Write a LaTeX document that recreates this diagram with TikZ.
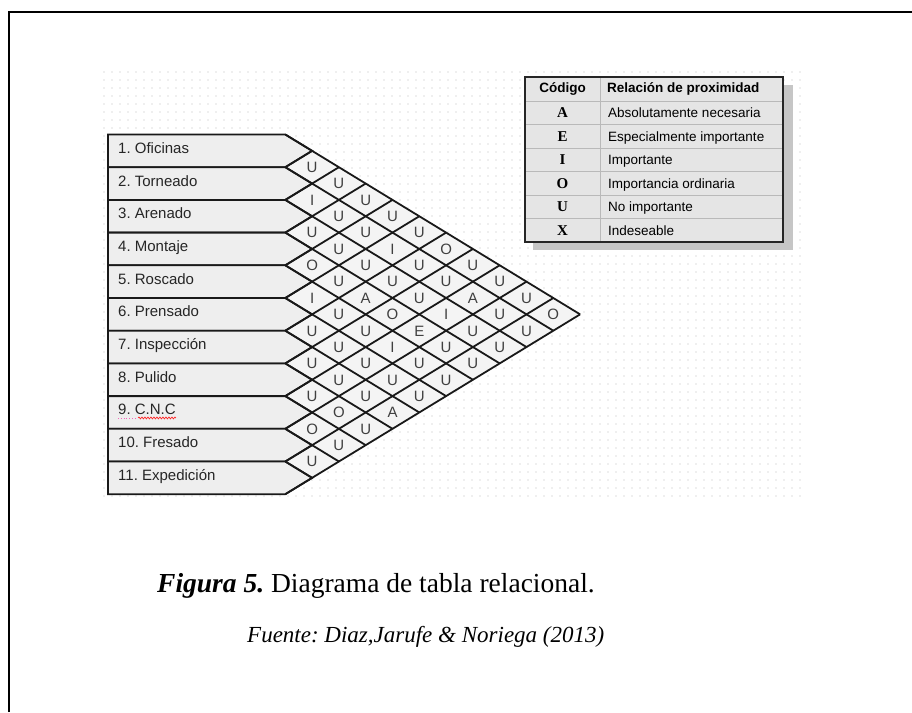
\documentclass[tikz,border=0pt]{standalone}
\usepackage{fontspec}
\setmainfont{Liberation Serif}
\newfontfamily\uisans{Liberation Sans}
\usetikzlibrary{patterns.meta,decorations.pathmorphing}
\frenchspacing

% faint screen grid behind the chart
\pgfdeclarepattern{
  name=griddots,
  type=uncolored,
  bottom left={\pgfpoint{-1pt}{-1pt}},
  top right={\pgfpoint{7pt}{7pt}},
  tile size={\pgfpoint{8pt}{8pt}},
  code={\pgfpathcircle{\pgfpointorigin}{0.55pt}\pgfusepath{fill}}
}

% chart geometry (1 unit = 1pt, y grows downwards)
\def\xL{108}      % left edge of the activity boxes
\def\xO{285.3}    % right edge of the box rectangles
\def\dx{26.8}     % half width of a diamond
\def\yO{134.5}    % top of the first box
\def\hh{32.7}     % row height

\begin{document}
\begin{tikzpicture}[x=1pt,y=-1pt,
  frame/.style={line width=2pt,draw=black},
  gridline/.style={line width=1.8pt,draw=black!90,line join=miter},
  boxfill/.style={fill=gray!13},
  actlabel/.style={font=\uisans\fontsize{15}{18}\selectfont,text=black!85,inner sep=0pt,anchor=base west},
  rel/.style={font=\uisans\fontsize{15}{18}\selectfont,text=black!75,inner sep=0pt,anchor=base},
  cellrule/.style={line width=1pt,draw=gray!55},
  hd/.style={font=\uisans\bfseries\fontsize{13.5}{16}\selectfont,inner sep=0pt},
  code/.style={font=\bfseries\fontsize{15}{18}\selectfont,inner sep=0pt,anchor=base},
  desc/.style={font=\uisans\fontsize{13.5}{16}\selectfont,inner sep=0pt,anchor=base west},
]
\useasboundingbox (0,0) rectangle (912,712);

% page frame (only top and left edges fall inside)
\draw[frame] (9,712) -- (9,12) -- (912,12);

% dotted work area
\fill[pattern=griddots,pattern color=gray!55] (100,66) rectangle (802,502);

% triangle of the relationship diamonds
\coordinate (apex) at ({\xO+11*\dx},{\yO+5.5*\hh});
\coordinate (topc) at (\xO,\yO);
\coordinate (botc) at (\xO,{\yO+11*\hh});
\fill[gray!9] (topc) -- (apex) -- (botc) -- cycle;

% activity boxes
\foreach \k in {1,...,11}{
  \pgfmathsetmacro\ya{\yO+(\k-1)*\hh}
  \pgfmathsetmacro\yb{\yO+\k*\hh}
  \pgfmathsetmacro\yc{\yO+(\k-0.5)*\hh}
  \path[boxfill,gridline] (\xL,\ya) -- (\xO,\ya) -- ({\xO+\dx},\yc) -- (\xO,\yb) -- (\xL,\yb) -- cycle;
}

% diagonal lines of the matrix
\foreach \k in {1,...,11}{
  \pgfmathsetmacro\ya{\yO+(\k-1)*\hh}
  \pgfmathsetmacro\yb{\yO+\k*\hh}
  \pgfmathsetmacro\na{12-\k}
  \draw[gridline] (\xO,\ya) -- ({\xO+\na*\dx},{\ya+\na*\hh/2});
  \draw[gridline] (\xO,\yb) -- ({\xO+\k*\dx},{\yb-\k*\hh/2});
}

% activity names
\foreach \k/\t in {1/{1. Oficinas},2/{2. Torneado},3/{3. Arenado},4/{4. Montaje},
  5/{5. Roscado},6/{6. Prensado},7/{7. Inspección},8/{8. Pulido},
  9/{9. C.N.C},10/{10. Fresado},11/{11. Expedición}}{
  \pgfmathsetmacro\yc{\yO+(\k-0.5)*\hh+2.5}
  \node[actlabel] (act\k) at (118,\yc) {\t};
}
% spell-check marks under "9. C.N.C"
\draw[magenta!60,line width=0.8pt,dotted] ([yshift=-3pt]act9.base west) -- ([xshift=19pt,yshift=-3pt]act9.base west);
\draw[red!85,line width=0.7pt,decorate,decoration={snake,amplitude=0.9pt,segment length=3pt}]
  ([xshift=20pt,yshift=-3pt]act9.base west) -- ([yshift=-3pt]act9.base east);

% closeness ratings
\foreach \i/\j/\c in {
  1/2/U,1/3/U,1/4/U,1/5/U,1/6/U,1/7/O,1/8/U,1/9/U,1/10/U,1/11/O,
  2/3/I,2/4/U,2/5/U,2/6/I,2/7/U,2/8/U,2/9/A,2/10/U,2/11/U,
  3/4/U,3/5/U,3/6/U,3/7/U,3/8/U,3/9/I,3/10/U,3/11/U,
  4/5/O,4/6/U,4/7/A,4/8/O,4/9/E,4/10/U,4/11/U,
  5/6/I,5/7/U,5/8/U,5/9/I,5/10/U,5/11/U,
  6/7/U,6/8/U,6/9/U,6/10/U,6/11/U,
  7/8/U,7/9/U,7/10/U,7/11/A,
  8/9/U,8/10/O,8/11/U,
  9/10/O,9/11/U,
  10/11/U}{
  \pgfmathsetmacro\px{\xO+(\j-\i)*\dx}
  \pgfmathsetmacro\py{\yO+(\i+\j-1)*\hh/2+5.3}
  \node[rel] (r\i-\j) at (\px,\py) {\c};
}

% legend table
\fill[gray!45] (533,85) rectangle (793,250);
\fill[gray!20] (525,77) rectangle (783,242);
\foreach \yy in {101,124.5,148,171.5,195,218.5}
  \draw[cellrule] (525,\yy) -- (783,\yy);
\draw[cellrule] (600,77) -- (600,242);
\draw[line width=2pt,draw=black!85] (525,77) rectangle (783,242);
\node[hd] (hcode) at (562.5,89) {Código};
\node[hd,anchor=west] (hrel) at (607,89) {Relación de proximidad};
\foreach \k/\c/\d in {1/A/Absolutamente necesaria,2/E/Especialmente importante,
  3/I/Importante,4/O/Importancia ordinaria,5/U/No importante,6/X/Indeseable}{
  \pgfmathsetmacro\yc{101+(\k-0.5)*23.5+5}
  \node[code] (c\k) at (562.5,\yc) {\c};
  \node[desc] (d\k) at (608,\yc) {\d};
}

% caption and source
\node[anchor=base west,inner sep=0pt] (cap) at (157,592)
  {\fontsize{27.5}{30}\selectfont\textbf{\textit{Figura 5.}} Diagrama de tabla relacional.};
\node[anchor=base west,inner sep=0pt] (src) at (247,642)
  {\fontsize{23}{26}\selectfont\itshape Fuente: Diaz,Jarufe \& Noriega (2013)};
\end{tikzpicture}
\end{document}
